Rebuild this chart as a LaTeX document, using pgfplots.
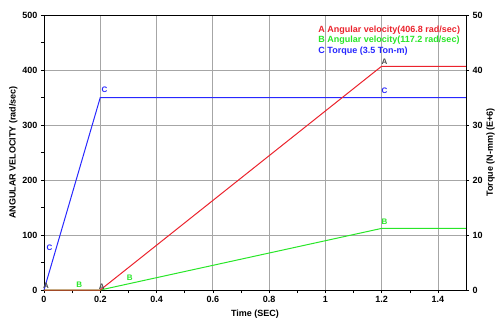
\documentclass[border=0pt]{standalone}
\usepackage{pgfplots}
\pgfplotsset{compat=1.18}
\usepackage{fontspec}
\setmainfont{Liberation Sans}
\definecolor{cA}{RGB}{235,35,45}
\definecolor{cB}{RGB}{40,230,40}
\definecolor{cC}{RGB}{40,40,255}
\begin{document}
\begin{tikzpicture}
\pgfplotsset{every axis/.append style={
  scale only axis, width=422pt, height=275pt,
  xmin=0, xmax=1.5,
  tick label style={font=\bfseries\fontsize{9}{10}\selectfont, black},
  label style={font=\bfseries\fontsize{9}{10}\selectfont},
  /pgf/number format/assume math mode=true,
  tick style={black, thin},
}}
\begin{axis}[
  ymin=0, ymax=500,
  axis y line*=left, axis x line*=bottom,
  xtick={0,0.2,...,1.4}, minor x tick num=1,
  ytick={0,100,...,500}, minor y tick num=1,
  xticklabels={0,0.2,0.4,0.6,0.8,1,1.2,1.4},
  major tick length=3pt, minor tick length=3pt,
  tick align=outside,
  minor tick style={/pgfplots/tick align=inside},
  grid=major, major grid style={gray!70, line width=0.6pt},
  xlabel={Time (SEC)}, ylabel={ANGULAR VELOCITY (rad/sec)},
  xlabel style={at={(axis description cs:0.5,0)}, anchor=north, yshift=-16pt},
  ylabel style={yshift=-2pt},
  clip=false,
]
\draw[black, line width=0.6pt] (axis cs:0,500) -- (axis cs:1.5,500);
\addplot[cC, line width=1pt] coordinates {(0,0) (0.2,350) (1.5,350)};
\addplot[cB, line width=1pt] coordinates {(0,0) (0.2,0) (1.2,112) (1.5,112)};
\addplot[cA, line width=1pt] coordinates {(0,0) (0.2,0) (1.2,406.8) (1.5,406.8)};
\begin{scope}[font=\bfseries\fontsize{8}{9}\selectfont]
\node[black!70] at (axis cs:0.007,8) {A};
\node[black!70] at (axis cs:0.205,6) {A};
\node[black!70] at (axis cs:1.21,415) {A};
\node[cC] at (axis cs:0.02,76) {C};
\node[cC] at (axis cs:0.215,364) {C};
\node[cC] at (axis cs:1.21,362) {C};
\node[cB] at (axis cs:0.125,9) {B};
\node[cB] at (axis cs:0.305,23) {B};
\node[cB] at (axis cs:1.21,124) {B};
\end{scope}
\begin{scope}[font=\bfseries\fontsize{9}{10}\selectfont]
\node[cA, anchor=west] at (axis cs:0.963,473) {A Angular velocity(406.8 rad/sec)};
\node[cB, anchor=west] at (axis cs:0.963,455) {B Angular velocity(117.2 rad/sec)};
\node[cC, anchor=west] at (axis cs:0.963,435) {C Torque (3.5 Ton-m)};
\end{scope}
\end{axis}
\begin{axis}[
  ymin=0, ymax=50,
  axis y line*=right, axis x line=none,
  ytick={0,10,...,50},
  tick align=outside, major tick length=3pt,
  ylabel={Torque (N-mm) (E+6)},
  ylabel style={yshift=3pt},
]
\addplot[draw=none] coordinates {(0,0)};
\end{axis}
\pgfresetboundingbox
\path[use as bounding box] (-44pt,-37pt) rectangle (452pt,290pt);
\end{tikzpicture}
\end{document}
